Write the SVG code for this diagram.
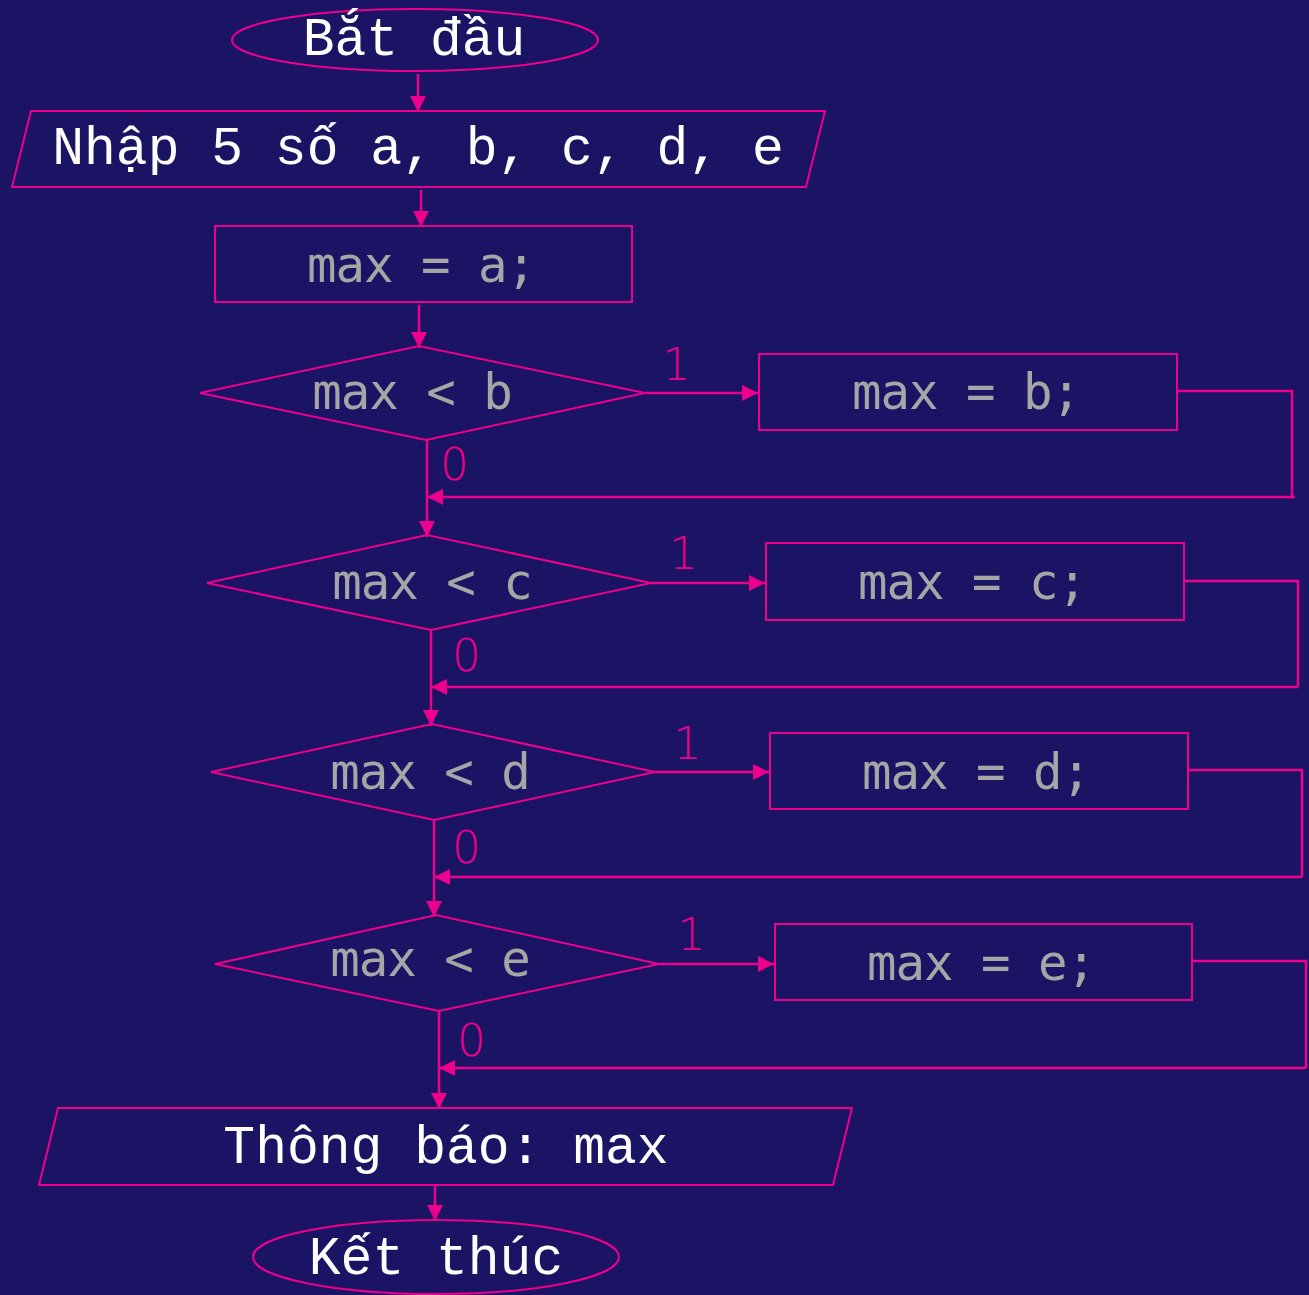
<svg xmlns="http://www.w3.org/2000/svg" width="1309" height="1295" viewBox="0 0 1309 1295">
  <style>
    .shape { fill: none; stroke: #EC008C; stroke-width: 2; }
    .conn { fill: none; stroke: #EC008C; stroke-width: 2.5; }
    .io { font-family: "Liberation Mono", "Courier New", monospace; font-size: 53px; fill: #FFFFFF; text-anchor: middle; }
    .code { font-family: "DejaVu Sans Mono", monospace; font-size: 49px; letter-spacing: -1px; fill: #A6A6A6; text-anchor: middle; }
    .lbl { font-family: "DejaVu Sans", sans-serif; font-weight: 200; font-size: 45px; fill: #EC008C; }
  </style>
  <defs>
    <marker id="arrow" markerUnits="userSpaceOnUse" markerWidth="16" markerHeight="16" viewBox="0 0 16 16" refX="16" refY="8" orient="auto">
      <path d="M0,0 L16,8 L0,16 Z" fill="#EC008C"/>
    </marker>
  </defs>
  <rect width="1309" height="1295" fill="#1B1464"/>

  <!-- connectors -->
  <g id="connectors">
    <line class="conn" x1="418" y1="74" x2="418" y2="112" marker-end="url(#arrow)"/>
    <line class="conn" x1="421" y1="190" x2="421" y2="227" marker-end="url(#arrow)"/>
    <line class="conn" x1="419" y1="305" x2="419" y2="348" marker-end="url(#arrow)"/>

    <!-- decision b -->
    <line class="conn" x1="645" y1="393" x2="758" y2="393" marker-end="url(#arrow)"/>
    <polyline class="conn" points="1177,391 1292,391 1292,497 1295,497"/>
    <line class="conn" x1="1292" y1="497" x2="427" y2="497" marker-end="url(#arrow)"/>
    <line class="conn" x1="427" y1="440" x2="427" y2="537" marker-end="url(#arrow)"/>
    <text class="lbl" x="662" y="380">1</text>
    <text class="lbl" x="440" y="480">0</text>

    <!-- decision c -->
    <line class="conn" x1="651" y1="583" x2="765" y2="583" marker-end="url(#arrow)"/>
    <polyline class="conn" points="1184,581 1298,581 1298,687"/>
    <line class="conn" x1="1298" y1="687" x2="431" y2="687" marker-end="url(#arrow)"/>
    <line class="conn" x1="431" y1="630" x2="431" y2="726" marker-end="url(#arrow)"/>
    <text class="lbl" x="669" y="569">1</text>
    <text class="lbl" x="452" y="671">0</text>

    <!-- decision d -->
    <line class="conn" x1="655" y1="772" x2="769" y2="772" marker-end="url(#arrow)"/>
    <polyline class="conn" points="1188,770 1302,770 1302,877"/>
    <line class="conn" x1="1302" y1="877" x2="434" y2="877" marker-end="url(#arrow)"/>
    <line class="conn" x1="434" y1="820" x2="434" y2="917" marker-end="url(#arrow)"/>
    <text class="lbl" x="673" y="759">1</text>
    <text class="lbl" x="452" y="863">0</text>

    <!-- decision e -->
    <line class="conn" x1="659" y1="964" x2="774" y2="964" marker-end="url(#arrow)"/>
    <polyline class="conn" points="1192,961 1306,961 1306,1068"/>
    <line class="conn" x1="1306" y1="1068" x2="439" y2="1068" marker-end="url(#arrow)"/>
    <line class="conn" x1="439" y1="1011" x2="439" y2="1109" marker-end="url(#arrow)"/>
    <text class="lbl" x="677" y="950">1</text>
    <text class="lbl" x="457" y="1056">0</text>

    <line class="conn" x1="435" y1="1186" x2="435" y2="1221" marker-end="url(#arrow)"/>
  </g>

  <!-- nodes -->
  <g id="start">
    <ellipse class="shape" cx="415" cy="40" rx="183" ry="31"/>
    <text class="io" x="414" y="55">Bắt đầu</text>
  </g>
  <g id="input">
    <polygon class="shape" points="31,111 825,111 806,187 12,187"/>
    <text class="io" x="418" y="164">Nhập 5 số a, b, c, d, e</text>
  </g>
  <g id="init">
    <rect class="shape" x="215" y="226" width="417" height="76"/>
    <text class="code" x="421" y="282">max = a;</text>
  </g>

  <g id="cond-b">
    <polygon class="shape" points="200,393 419,346 645,393 426,440"/>
    <text class="code" x="412" y="409">max &lt; b</text>
  </g>
  <g id="set-b">
    <rect class="shape" x="759" y="354" width="418" height="76"/>
    <text class="code" x="966" y="409">max = b;</text>
  </g>

  <g id="cond-c">
    <polygon class="shape" points="207,583 427,535 651,583 431,630"/>
    <text class="code" x="432" y="599">max &lt; c</text>
  </g>
  <g id="set-c">
    <rect class="shape" x="766" y="543" width="418" height="77"/>
    <text class="code" x="972" y="599">max = c;</text>
  </g>

  <g id="cond-d">
    <polygon class="shape" points="211,772 432,724 655,772 434,820"/>
    <text class="code" x="430" y="789">max &lt; d</text>
  </g>
  <g id="set-d">
    <rect class="shape" x="770" y="733" width="418" height="76"/>
    <text class="code" x="976" y="789">max = d;</text>
  </g>

  <g id="cond-e">
    <polygon class="shape" points="215,964 436,915 659,964 439,1011"/>
    <text class="code" x="430" y="976">max &lt; e</text>
  </g>
  <g id="set-e">
    <rect class="shape" x="775" y="924" width="417" height="76"/>
    <text class="code" x="981" y="980">max = e;</text>
  </g>

  <g id="output">
    <polygon class="shape" points="58,1108 852,1108 833,1185 39,1185"/>
    <text class="io" x="446" y="1163">Thông báo: max</text>
  </g>
  <g id="end">
    <ellipse class="shape" cx="436" cy="1257" rx="183" ry="37"/>
    <text class="io" x="436" y="1274">Kết thúc</text>
  </g>
</svg>
